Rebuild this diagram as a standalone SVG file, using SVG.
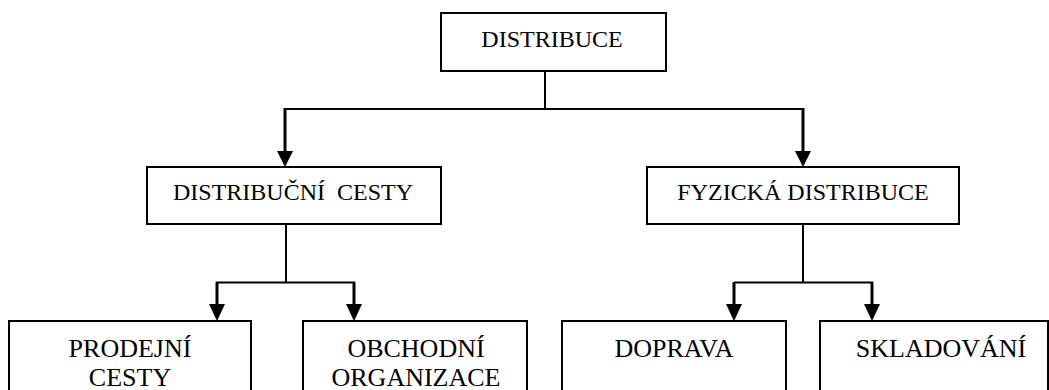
<svg xmlns="http://www.w3.org/2000/svg" width="1049" height="390" viewBox="0 0 1049 390">
<rect width="1049" height="390" fill="#fff"/>
<g id="connectors" fill="none" stroke="#000">
<path stroke-width="2" d="M545,71 V109 M285,109 H803 M286,224 V282.5 M216,282.5 H355 M803,224 V282.5 M734,282.5 H873"/>
<path stroke-width="3" d="M285,108 V152 M803,108 V152 M217,282 V305 M354,282 V305 M734,282 V305 M872,282 V305"/>
<g fill="#000" stroke="none">
<polygon points="277,151 293,151 285,167"/>
<polygon points="795,151 811,151 803,167"/>
<polygon points="209,304 225,304 217,321"/>
<polygon points="346,304 362,304 354,321"/>
<polygon points="726,304 742,304 734,321"/>
<polygon points="864,304 880,304 872,321"/>
</g>
</g>
<g id="nodes" font-family="Liberation Serif, serif" text-anchor="middle">
<g id="distribuce" font-size="24">
<rect x="441" y="13" width="225" height="58" fill="#fff" stroke="#000" stroke-width="2"/>
<text x="552" y="47">DISTRIBUCE</text>
</g>
<g id="distribucni-cesty" font-size="24">
<rect x="147" y="167" width="294" height="57" fill="#fff" stroke="#000" stroke-width="2"/>
<text x="293" y="200" xml:space="preserve">DISTRIBUČNÍ  CESTY</text>
</g>
<g id="fyzicka-distribuce" font-size="24">
<rect x="647" y="167" width="312" height="57" fill="#fff" stroke="#000" stroke-width="2"/>
<text x="803" y="200">FYZICKÁ DISTRIBUCE</text>
</g>
<g id="prodejni-cesty" font-size="26">
<rect x="9" y="321" width="242" height="90" fill="#fff" stroke="#000" stroke-width="2"/>
<text x="130" y="357">PRODEJNÍ</text>
<text x="130" y="386">CESTY</text>
</g>
<g id="obchodni-organizace" font-size="26">
<rect x="303" y="321" width="224" height="90" fill="#fff" stroke="#000" stroke-width="2"/>
<text x="416" y="357">OBCHODNÍ</text>
<text x="416" y="386">ORGANIZACE</text>
</g>
<g id="doprava" font-size="26">
<rect x="562" y="321" width="224" height="90" fill="#fff" stroke="#000" stroke-width="2"/>
<text x="674" y="357">DOPRAVA</text>
</g>
<g id="skladovani" font-size="26">
<rect x="820" y="321" width="228" height="90" fill="#fff" stroke="#000" stroke-width="2"/>
<text x="941" y="357">SKLADOVÁNÍ</text>
</g>
</g>
</svg>
